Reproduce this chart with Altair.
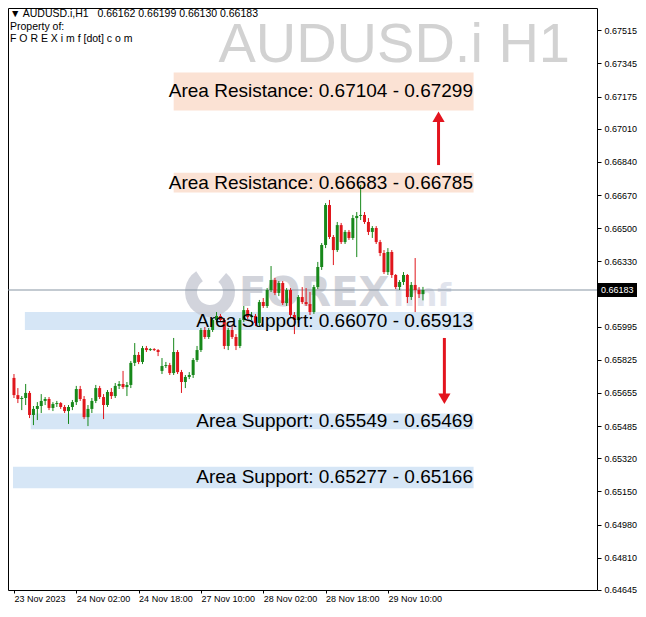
import altair as alt
import pandas as pd

# ---------------- data ----------------
symbol_title = "AUDUSD.i H1"
header_lines = ["\u25BC AUDUSD.i,H1\u00a0\u00a0 0.66162 0.66199 0.66130 0.66183",
                "Property of:",
                "F O R E X i m f [dot] c o m"]
watermark_main = "FOREX"
watermark_tail = "imf"

time_tick_index = [0, 16, 32, 48, 64, 80, 96]
time_tick_labels = ["23 Nov 2023", "24 Nov 02:00", "24 Nov 18:00", "27 Nov 10:00",
                    "28 Nov 02:00", "28 Nov 18:00", "29 Nov 10:00"]
price_ticks = [0.67515, 0.67345, 0.67175, 0.67010, 0.66840, 0.66670, 0.66500, 0.66330,
               0.65995, 0.65825, 0.65655, 0.65485, 0.65320, 0.65150, 0.64980, 0.64810, 0.64645]
current_price = 0.66183

opens = [
    0.65732, 0.65644, 0.65624, 0.65629, 0.65655, 0.65542, 0.65573, 0.65588, 0.65614, 0.65624,
    0.65578, 0.65598, 0.65603, 0.65583, 0.65562, 0.65583, 0.65608, 0.65675, 0.65624, 0.65531,
    0.65573, 0.65614, 0.65680, 0.65634, 0.65593, 0.65660, 0.65639, 0.65691, 0.65701, 0.65685,
    0.65696, 0.65809, 0.65850, 0.65814, 0.65885, 0.65875, 0.65880, 0.65875, 0.65768, 0.65793,
    0.65798, 0.65757, 0.65865, 0.65762, 0.65711, 0.65737, 0.65747, 0.65824, 0.65875, 0.65978,
    0.65942, 0.65978, 0.66029, 0.66050, 0.66029, 0.65896, 0.65978, 0.65942, 0.65896, 0.66029,
    0.66080, 0.66044, 0.66050, 0.66014, 0.66121, 0.66101, 0.66183, 0.66234, 0.66168, 0.66219,
    0.66116, 0.66183, 0.66055, 0.66029, 0.66147, 0.66121, 0.66111, 0.66070, 0.66198, 0.66301,
    0.66414, 0.66619, 0.66455, 0.66388, 0.66516, 0.66429, 0.66481, 0.66450, 0.66552, 0.66563,
    0.66568, 0.66532, 0.66481, 0.66501, 0.66429, 0.66373, 0.66275, 0.66378, 0.66260, 0.66198,
    0.66224, 0.66260, 0.66147, 0.66209, 0.66183, 0.66162]
closes = [
    0.65644, 0.65624, 0.65629, 0.65655, 0.65542, 0.65573, 0.65588, 0.65614, 0.65624, 0.65578,
    0.65598, 0.65603, 0.65583, 0.65562, 0.65583, 0.65608, 0.65675, 0.65624, 0.65531, 0.65573,
    0.65614, 0.65680, 0.65634, 0.65593, 0.65660, 0.65639, 0.65691, 0.65701, 0.65685, 0.65696,
    0.65809, 0.65850, 0.65814, 0.65885, 0.65875, 0.65880, 0.65875, 0.65865, 0.65793, 0.65798,
    0.65757, 0.65865, 0.65762, 0.65711, 0.65737, 0.65747, 0.65824, 0.65875, 0.65978, 0.65942,
    0.65978, 0.66029, 0.66050, 0.66029, 0.65896, 0.65978, 0.65942, 0.65896, 0.66029, 0.66080,
    0.66044, 0.66050, 0.66014, 0.66121, 0.66101, 0.66183, 0.66234, 0.66168, 0.66219, 0.66116,
    0.66183, 0.66055, 0.66029, 0.66147, 0.66121, 0.66111, 0.66070, 0.66198, 0.66301, 0.66414,
    0.66619, 0.66455, 0.66388, 0.66516, 0.66429, 0.66481, 0.66450, 0.66552, 0.66563, 0.66568,
    0.66532, 0.66481, 0.66501, 0.66429, 0.66373, 0.66275, 0.66378, 0.66260, 0.66198, 0.66224,
    0.66260, 0.66147, 0.66209, 0.66183, 0.66162, 0.66183]
highs = [
    0.65752, 0.65680, 0.65639, 0.65701, 0.65665, 0.65588, 0.65608, 0.65649, 0.65634, 0.65634,
    0.65608, 0.65614, 0.65608, 0.65593, 0.65593, 0.65619, 0.65691, 0.65691, 0.65639, 0.65593,
    0.65629, 0.65696, 0.65691, 0.65649, 0.65670, 0.65680, 0.65706, 0.65716, 0.65768, 0.65711,
    0.65819, 0.65911, 0.65865, 0.65896, 0.65896, 0.65885, 0.65885, 0.65880, 0.65834, 0.65814,
    0.65809, 0.65937, 0.65875, 0.65773, 0.65747, 0.65762, 0.65834, 0.65896, 0.65988, 0.65993,
    0.65988, 0.66039, 0.66070, 0.66060, 0.66039, 0.65988, 0.66003, 0.65957, 0.66039, 0.66101,
    0.66091, 0.66070, 0.66060, 0.66132, 0.66142, 0.66193, 0.66306, 0.66245, 0.66229, 0.66229,
    0.66193, 0.66193, 0.66070, 0.66157, 0.66198, 0.66193, 0.66173, 0.66209, 0.66327, 0.66424,
    0.66629, 0.66645, 0.66465, 0.66532, 0.66527, 0.66491, 0.66491, 0.66568, 0.66583, 0.66722,
    0.66583, 0.66552, 0.66511, 0.66511, 0.66440, 0.66388, 0.66398, 0.66388, 0.66265, 0.66234,
    0.66275, 0.66265, 0.66224, 0.66347, 0.66198, 0.66199]
lows = [
    0.65629, 0.65603, 0.65567, 0.65593, 0.65526, 0.65490, 0.65516, 0.65552, 0.65593, 0.65567,
    0.65562, 0.65583, 0.65573, 0.65552, 0.65496, 0.65567, 0.65593, 0.65614, 0.65521, 0.65485,
    0.65552, 0.65603, 0.65624, 0.65521, 0.65583, 0.65624, 0.65629, 0.65675, 0.65675, 0.65639,
    0.65680, 0.65793, 0.65803, 0.65803, 0.65865, 0.65870, 0.65870, 0.65844, 0.65752, 0.65783,
    0.65747, 0.65747, 0.65752, 0.65655, 0.65680, 0.65726, 0.65732, 0.65814, 0.65865, 0.65932,
    0.65932, 0.65968, 0.66019, 0.66019, 0.65880, 0.65875, 0.65932, 0.65875, 0.65885, 0.66019,
    0.66034, 0.66029, 0.65998, 0.65998, 0.66091, 0.66091, 0.66173, 0.66157, 0.66152, 0.66106,
    0.66101, 0.66044, 0.65957, 0.66014, 0.66111, 0.66101, 0.66055, 0.66060, 0.66188, 0.66286,
    0.66398, 0.66445, 0.66311, 0.66378, 0.66419, 0.66419, 0.66440, 0.66440, 0.66352, 0.66542,
    0.66522, 0.66465, 0.66450, 0.66419, 0.66357, 0.66265, 0.66260, 0.66245, 0.66188, 0.66183,
    0.66209, 0.66116, 0.66132, 0.66070, 0.66142, 0.66130]

zone_labels = ["Area Resistance: 0.67104 - 0.67299", "Area Resistance: 0.66683 - 0.66785",
               "Area Support: 0.66070 - 0.65913", "Area Support: 0.65549 - 0.65469",
               "Area Support: 0.65277 - 0.65166"]
zone_kind = ["res", "res", "sup", "sup", "sup"]
zone_top = [0.67299, 0.66785, 0.66070, 0.65549, 0.65277]
zone_bottom = [0.67104, 0.66683, 0.65978, 0.65469, 0.65166]
zone_start = [41.0, 41.0, 2.8, 4.3, -0.25]
zone_end = [118.0, 118.0, 118.0, 118.0, 118.0]

arrow_bar = [109.0, 110.5]
arrow_from = [0.66824, 0.65937]
arrow_to = [0.67050, 0.65640]
arrow_head = [0.67072, 0.65625]
arrow_shape = ["triangle-up", "triangle-down"]

# ---------------- styling ----------------
GREEN = "#17881a"
RED = "#e0161c"
ARROW_RED = "#e3141e"
FONT = "Liberation Sans"
PLOT_W, PLOT_H = 589, 582

x_scale = alt.Scale(domain=[-0.25, 148.4], nice=False, zero=False)
y_scale = alt.Scale(domain=[0.646441, 0.676297], nice=False, zero=False)

candles = pd.DataFrame({"i": list(range(len(opens))), "open": opens, "close": closes,
                        "high": highs, "low": lows})
zones = pd.DataFrame({"label": zone_labels, "kind": zone_kind, "top": zone_top,
                      "bottom": zone_bottom, "start": zone_start, "end": zone_end})
zones["mid"] = (zones["top"] + zones["bottom"]) / 2
arrows = pd.DataFrame({"bar": arrow_bar, "y0": arrow_from, "y1": arrow_to,
                       "head": arrow_head, "shape": arrow_shape})
one = pd.DataFrame({"price": [current_price]})

label_expr = f"{time_tick_labels}[indexof({time_tick_index}, datum.value)]"

x_axis = alt.Axis(values=time_tick_index, labelExpr=label_expr, labelAlign="left",
                  tickSize=3, labelPadding=1, labelFontSize=9, labelFont=FONT, grid=False,
                  domain=False, tickColor="black", labelColor="black", labelFlush=False,
                  labelOverlap=False, labelBound=False, title=None)
y_axis = alt.Axis(orient="right", values=price_ticks, format=".5f", tickSize=4, labelPadding=3,
                  labelFontSize=9, labelFont=FONT, grid=False, domain=False, tickColor="black",
                  labelColor="black", labelOverlap=False, labelBound=False, labelFlush=False,
                  title=None)


def X(field):
    return alt.X(field, scale=x_scale, axis=x_axis)


def Y(field):
    return alt.Y(field, scale=y_scale, axis=y_axis)


color_cond = alt.condition("datum.close >= datum.open", alt.value(GREEN), alt.value(RED))

zone_rects = alt.Chart(zones).mark_rect(opacity=1).encode(
    x=X("start:Q"), x2="end:Q",
    y=Y("top:Q"), y2="bottom:Q",
    color=alt.Color("kind:N", scale=alt.Scale(domain=["res", "sup"], range=["#fbe2d4", "#d6e6f6"]),
                    legend=None),
)

wm_arc = alt.Chart(one).mark_arc(radius=25, radius2=13, theta=0.7, theta2=5.7,
                                 color="#c3c6d0", opacity=0.75).encode(
    x=alt.value(202), y=alt.value(284))
wm_text = alt.Chart(one).mark_text(text=watermark_main, font="DejaVu Sans", fontWeight="bold",
                                   fontSize=40, align="left", baseline="middle", color="#c3c6d0",
                                   opacity=0.75).encode(x=alt.value(231), y=alt.value(286))
wm_tail = alt.Chart(one).mark_text(text=watermark_tail, font="DejaVu Sans", fontWeight="bold",
                                   fontSize=32, align="left", baseline="middle", color="#d8dbe8",
                                   opacity=0.75).encode(x=alt.value(385), y=alt.value(288))

price_line = alt.Chart(one).mark_rule(color="#8795a3", strokeWidth=1).encode(y=Y("price:Q"))

wicks = alt.Chart(candles).mark_rule(strokeWidth=1).encode(
    x=X("i:Q"), y=Y("low:Q"), y2="high:Q", color=color_cond)
bodies = alt.Chart(candles).mark_bar(width=3).encode(
    x=X("i:Q"), y=Y("open:Q"), y2="close:Q", color=color_cond)

zone_text = alt.Chart(zones).mark_text(font=FONT, fontSize=19, align="right", baseline="middle",
                                       color="black").encode(
    x=alt.value(465), y=Y("mid:Q"), text="label:N")

arrow_shaft = alt.Chart(arrows).mark_rule(color=ARROW_RED, strokeWidth=3).encode(
    x=X("bar:Q"), y=Y("y0:Q"), y2="y1:Q")
arrow_heads = alt.Chart(arrows).mark_point(filled=True, size=150, opacity=1,
                                           color=ARROW_RED).encode(
    x=X("bar:Q"), y=Y("head:Q"),
    shape=alt.Shape("shape:N", scale=None, legend=None))

title_text = alt.Chart(one).mark_text(text=symbol_title, font=FONT, fontSize=56, align="right",
                                      baseline="alphabetic", color="#d2d2d2").encode(
    x=alt.value(562), y=alt.value(54))

header = alt.layer(*[
    alt.Chart(one).mark_text(text=t, font=FONT, fontSize=10.5, align="left", baseline="middle",
                             color="black").encode(x=alt.value(2), y=alt.value(6 + 12.5 * k))
    for k, t in enumerate(header_lines)
])

price_box = alt.Chart(one).transform_calculate(
    top="datum.price + 0.00036", bottom="datum.price - 0.00036"
).mark_rect(color="black", clip=False).encode(
    x=alt.value(590), x2=alt.value(629), y=Y("top:Q"), y2="bottom:Q")
price_box_text = alt.Chart(one).mark_text(font=FONT, fontSize=9, align="left", baseline="middle",
                                          color="white", clip=False).encode(
    x=alt.value(593), y=Y("price:Q"), text=alt.Text("price:Q", format=".5f"))

chart = alt.layer(
    zone_rects, wm_arc, wm_text, wm_tail, price_line, wicks, bodies, zone_text,
    arrow_shaft, arrow_heads, title_text, header, price_box, price_box_text
).properties(
    width=PLOT_W, height=PLOT_H,
    padding={"left": 0, "top": 0, "right": 41, "bottom": 12},
    autosize=alt.AutoSizeParams(type="none"),
    background="white",
).configure_view(stroke="black", strokeWidth=1)

chart.save("out.html", embed_options={"renderer": "svg", "actions": False})
